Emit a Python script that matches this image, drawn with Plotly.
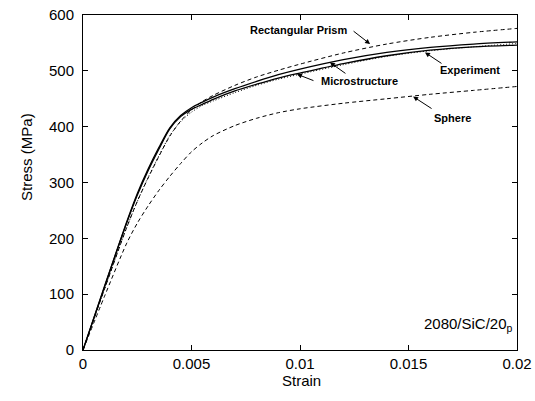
import plotly.graph_objects as go

strain = [0, 0.001, 0.002, 0.0025, 0.003, 0.0035, 0.004, 0.0045, 0.005, 0.0055, 0.006,
          0.007, 0.008, 0.009, 0.010, 0.012, 0.014, 0.016, 0.018, 0.020]
micro_upper = [0, 115, 228, 280, 324, 363, 398, 420, 434, 444, 453, 468, 481, 493, 503, 520, 533, 542, 548, 552]
micro_lower = [0, 114, 226, 277, 321, 360, 396, 418, 431, 440, 449, 464, 476, 487, 496, 513, 527, 537, 543, 546]
experiment = [0, 110, 218, 266, 309, 348, 384, 409, 426, 438, 446, 461, 474, 485, 494, 511, 526, 536, 543, 549]
rect_prism = [0, 110, 218, 266, 308, 347, 383, 410, 430, 445, 456, 474, 489, 501, 512, 532, 548, 560, 569, 576]
sphere = [0, 97, 190, 227, 258, 286, 311, 334, 355, 371, 384, 402, 415, 425, 432, 442, 450, 458, 465, 472]

x_ticks = [0, 0.005, 0.01, 0.015, 0.02]
x_ticklabels = ["0", "0.005", "0.01", "0.015", "0.02"]
y_ticks = [0, 100, 200, 300, 400, 500, 600]

FONT = "Arial, Liberation Sans, sans-serif"

fig = go.Figure()
fig.add_trace(go.Scatter(x=strain, y=rect_prism, mode="lines", line=dict(color="black", width=1, dash="4px,3px", shape="spline", smoothing=0.8)))
fig.add_trace(go.Scatter(x=strain, y=sphere, mode="lines", line=dict(color="black", width=1, dash="4px,3px", shape="spline", smoothing=0.8)))
fig.add_trace(go.Scatter(x=strain, y=experiment, mode="lines", line=dict(color="black", width=1, dash="1px,2px", shape="spline", smoothing=0.8)))
fig.add_trace(go.Scatter(x=strain, y=micro_upper, mode="lines", line=dict(color="black", width=1.3, shape="spline", smoothing=0.8)))
fig.add_trace(go.Scatter(x=strain, y=micro_lower, mode="lines", line=dict(color="black", width=1.3, shape="spline", smoothing=0.8)))

bold = dict(family=FONT, size=11, color="black")
labels = [
    ("<b>Rectangular Prism</b>", 0.00991, 573),
    ("<b>Microstructure</b>", 0.01276, 481),
    ("<b>Experiment</b>", 0.01783, 501),
    ("<b>Sphere</b>", 0.01705, 416),
]
for t, x, y in labels:
    fig.add_annotation(x=x, y=y, text=t, showarrow=False, font=bold, xanchor="center", yanchor="middle")

arrows = [
    (0.01323, 548, -18, -14),
    (0.00986, 494, 18, 7),
    (0.01138, 515, 17, 12),
    (0.01576, 533, 18, 12),
    (0.01521, 454, 20, 13),
]
for x, y, ax, ay in arrows:
    fig.add_annotation(x=x, y=y, ax=ax, ay=ay, text="", showarrow=True,
                       arrowhead=2, arrowsize=1, arrowwidth=1, arrowcolor="black", standoff=0)

fig.add_annotation(x=0.01992, y=46, text="2080/SiC/20<sub>p</sub>", showarrow=False,
                   xanchor="right", yanchor="middle", font=dict(family=FONT, size=15, color="black"))

fig.add_annotation(xref="paper", yref="paper", x=-0.132, y=0.5756, text="Stress (MPa)", textangle=-90,
                   showarrow=False, font=dict(family=FONT, size=15, color="black"), xanchor="center", yanchor="middle")
fig.add_annotation(xref="paper", yref="paper", x=0.5046, y=-0.092, text="Strain",
                   showarrow=False, font=dict(family=FONT, size=15, color="black"), xanchor="center", yanchor="middle")

axis_common = dict(showline=True, linecolor="black", linewidth=1, mirror="allticks", ticks="inside",
                   ticklen=5, tickcolor="black", showgrid=False, zeroline=False, automargin=False,
                   tickfont=dict(family=FONT, size=15, color="black"))
fig.update_xaxes(range=[0, 0.02], tickvals=x_ticks, ticktext=x_ticklabels, **axis_common)
fig.update_yaxes(range=[0, 600], tickvals=y_ticks, ticklabelstandoff=5, **axis_common)

fig.update_layout(width=535, height=401, margin=dict(l=83, r=18, t=15, b=51),
                  plot_bgcolor="white", paper_bgcolor="white", showlegend=False, hovermode=False)

fig.write_html("out.html", config={"displayModeBar": False, "staticPlot": True},
               post_script="document.body.style.margin='0';document.body.style.overflow='hidden';")
